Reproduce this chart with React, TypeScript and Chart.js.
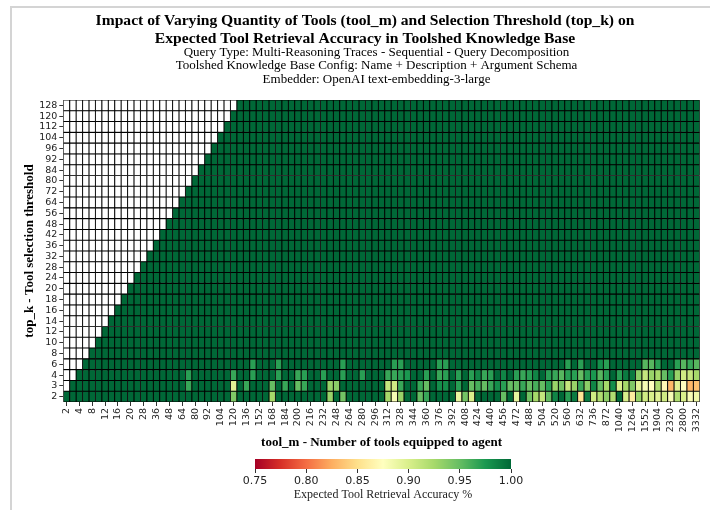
import React, { useEffect, useRef } from 'react';
import { Chart, registerables } from 'chart.js';

Chart.register(...registerables);

// ---------- DATA ----------
const TOOL_M = [
  2, 3, 4, 6, 8, 10, 12, 14, 16, 18, 20, 24, 28, 32, 36, 42, 48, 56, 64, 72,
  80, 84, 92, 96, 104, 112, 120, 128, 136, 144, 152, 160, 168, 176, 184, 192, 200, 208, 216, 224,
  232, 240, 248, 256, 264, 272, 280, 288, 296, 304, 312, 320, 328, 336, 344, 352, 360, 368, 376, 384,
  392, 400, 408, 416, 424, 432, 440, 448, 456, 464, 472, 480, 488, 496, 504, 512, 520, 536, 560, 592,
  632, 680, 736, 800, 872, 952, 1040, 1144, 1264, 1400, 1552, 1720, 1904, 2104, 2320, 2552, 2800, 3064, 3332,
];

const TOP_K = [2, 3, 4, 6, 8, 10, 12, 14, 16, 18, 20, 24, 28, 32, 36, 42, 48, 56, 64, 72, 80, 84, 92, 96, 104, 112, 120, 128];

// accuracy per tool_m column (null = top_k larger than tool_m)
const ACC_K2 = [
  1, 1, 1, 1, 1, 1, 1, 1, 1, 1,
  1, 1, 1, 1, 1, 1, 1, 1, 1, 1,
  1, 1, 1, 1, 1, 1, 0.94, 1, 1, 1,
  1, 1, 0.925, 1, 1, 1, 1, 1, 1, 1,
  1, 0.93, 1, 0.945, 1, 1, 1, 1, 1, 1,
  0.925, 0.88, 0.93, 1, 1, 0.95, 0.965, 1, 1, 1,
  1, 0.89, 0.945, 0.9, 1, 1, 1, 1, 0.95, 1,
  0.89, 1, 0.945, 0.925, 0.91, 0.95, 0.985, 1, 0.97, 0.99,
  0.855, 0.99, 0.905, 0.92, 0.935, 0.92, 1, 0.9, 0.86, 0.93,
  0.905, 0.9, 0.895, 0.905, 0.88, 0.92, 0.9, 0.88, 0.885,
];
const ACC_K3 = [
  null, 1, 1, 1, 1, 1, 1, 1, 1, 1,
  1, 1, 1, 1, 1, 1, 1, 1, 1, 0.965,
  1, 1, 1, 1, 1, 1, 0.895, 1, 0.965, 1,
  1, 1, 0.95, 1, 0.965, 1, 0.95, 0.965, 1, 1,
  1, 0.93, 0.935, 1, 1, 1, 1, 1, 1, 1,
  0.91, 0.905, 0.965, 1, 1, 0.965, 0.95, 1, 0.98, 0.98,
  1, 0.97, 1, 0.95, 0.96, 0.95, 0.965, 0.98, 0.97, 0.95,
  0.95, 0.965, 0.95, 0.96, 0.95, 0.97, 0.93, 0.945, 0.91, 0.93,
  0.965, 0.935, 0.985, 0.95, 0.925, 0.98, 0.9, 0.925, 0.94, 0.895,
  0.88, 0.875, 0.92, 0.87, 0.83, 0.895, 0.875, 0.83, 0.835,
];
const ACC_K4 = [
  null, null, 1, 1, 1, 1, 1, 1, 1, 1,
  1, 1, 1, 1, 1, 1, 1, 1, 1, 0.97,
  1, 1, 1, 1, 1, 1, 0.965, 1, 1, 0.97,
  1, 1, 1, 0.97, 1, 1, 0.965, 0.97, 1, 1,
  0.97, 1, 1, 0.97, 1, 1, 0.97, 1, 1, 1,
  0.965, 0.965, 0.97, 0.975, 1, 1, 0.97, 1, 0.965, 0.97,
  1, 0.97, 1, 0.97, 0.985, 0.965, 0.97, 1, 0.985, 1,
  0.97, 0.965, 0.97, 0.985, 1, 0.97, 0.965, 0.955, 0.97, 0.97,
  0.95, 0.97, 0.975, 0.955, 0.97, 1, 0.97, 0.99, 0.99, 0.935,
  0.91, 0.93, 0.925, 0.95, 0.97, 0.93, 0.905, 0.91, 0.925,
];
const ACC_K6 = [
  null, null, null, 1, 1, 1, 1, 1, 1, 1,
  1, 1, 1, 1, 1, 1, 1, 1, 1, 1,
  1, 1, 1, 1, 1, 1, 1, 1, 1, 0.97,
  1, 1, 1, 0.97, 1, 1, 1, 1, 1, 1,
  1, 1, 1, 0.97, 1, 1, 1, 1, 1, 1,
  1, 0.97, 0.97, 1, 1, 1, 1, 1, 0.97, 0.97,
  1, 1, 1, 1, 1, 1, 1, 1, 1, 1,
  1, 1, 1, 1, 1, 1, 1, 1, 0.97, 1,
  0.97, 1, 1, 0.98, 0.97, 1, 1, 1, 1, 1,
  0.955, 0.955, 0.97, 1, 1, 0.97, 0.955, 0.965, 0.955,
];
// every row from top_k = 8 upward reads as 1.00 wherever top_k <= tool_m
const ACC_UPPER_ROWS = 1.0;

const COLORBAR_TICKS = [0.75, 0.8, 0.85, 0.9, 0.95, 1.0];
const V_MIN = 0.75;
const V_MAX = 1.0;

const TITLE_LINES = [
  'Impact of Varying Quantity of Tools (tool_m) and Selection Threshold (top_k) on',
  'Expected Tool Retrieval Accuracy in Toolshed Knowledge Base',
];
const SUBTITLE_LINES = [
  'Query Type: Multi-Reasoning Traces - Sequential - Query Decomposition',
  'Toolshed Knowledge Base Config: Name + Description + Argument Schema',
  'Embedder: OpenAI text-embedding-3-large',
];

// ---------- COLOURS ----------
const RDYLGN = ['#a50026', '#d73027', '#f46d43', '#fdae61', '#fee08b', '#ffffbf', '#d9ef8b', '#a6d96a', '#66bd63', '#1a9850', '#006837'];

function hexToRgb(h: string): number[] {
  const n = parseInt(h.slice(1), 16);
  return [(n >> 16) & 255, (n >> 8) & 255, n & 255];
}
const RDYLGN_RGB = RDYLGN.map(hexToRgb);

function colorFor(v: number | null): string {
  if (v == null) return '#ffffff';
  let t = (v - V_MIN) / (V_MAX - V_MIN);
  t = Math.max(0, Math.min(1, t));
  const pos = t * (RDYLGN_RGB.length - 1);
  const i = Math.min(RDYLGN_RGB.length - 2, Math.floor(pos));
  const f = pos - i;
  const a = RDYLGN_RGB[i];
  const b = RDYLGN_RGB[i + 1];
  const c = a.map((x, j) => Math.round(x + (b[j] - x) * f));
  return `rgb(${c[0]},${c[1]},${c[2]})`;
}

const LOW_ROWS: (number | null)[][] = [ACC_K2, ACC_K3, ACC_K4, ACC_K6];

const headerPlugin = {
  id: 'header',
  afterDraw(chart: any) {
    const ctx = chart.ctx;
    const area = chart.chartArea;
    ctx.save();
    ctx.fillStyle = '#000';
    ctx.textAlign = 'center';
    ctx.textBaseline = 'middle';
    ctx.font = 'bold 15.6px "Liberation Serif"';
    TITLE_LINES.forEach((t, i) => ctx.fillText(t, chart.width / 2 + 4, 13 + i * 18));
    ctx.font = '13px "Liberation Serif"';
    const cx = (area.left + area.right) / 2 - 5;
    SUBTITLE_LINES.forEach((t, i) => ctx.fillText(t, cx, 44.5 + i * 13.5));
    ctx.restore();
  },
};

export default function App() {
  const mainRef = useRef<HTMLCanvasElement>(null);
  const barRef = useRef<HTMLCanvasElement>(null);

  useEffect(() => {
    if (!mainRef.current || !barRef.current) return;
    Chart.defaults.font.family = 'DejaVu Sans';

    const matrix = TOP_K.map((k, r) => {
      const row = LOW_ROWS[r] ?? TOOL_M.map(() => ACC_UPPER_ROWS);
      return TOOL_M.map((m, c) => (m < k ? null : row[c]));
    });

    const datasets = matrix.map((row, r) => ({
      label: String(TOP_K[r]),
      data: row.map(() => 1),
      backgroundColor: row.map(colorFor),
      borderColor: '#000000',
      borderWidth: 0.85,
      borderSkipped: false as const,
      barPercentage: 1,
      categoryPercentage: 1,
      stack: 'cells',
    }));

    const main = new Chart(mainRef.current, {
      type: 'bar',
      data: { labels: TOOL_M.map(String), datasets },
      plugins: [headerPlugin],
      options: {
        responsive: false,
        animation: false,
        devicePixelRatio: 1,
        layout: { padding: { top: 92, right: 7.2, left: 0, bottom: 0 } },
        plugins: { legend: { display: false }, tooltip: { enabled: false } },
        scales: {
          x: {
            type: 'category',
            stacked: true,
            offset: true,
            grid: { offset: false, drawOnChartArea: false, drawTicks: true, tickLength: 4, color: '#333' },
            border: { display: false },
            afterBuildTicks: (axis: any) => {
              axis.ticks = axis.ticks.filter((t: any) => t.value % 2 === 0);
            },
            afterFit: (s: any) => {
              s.height = 58;
            },
            ticks: {
              autoSkip: false,
              maxRotation: 90,
              minRotation: 90,
              padding: 2,
              color: '#222',
              font: { family: 'DejaVu Sans', size: 9.5 },
            },
            title: {
              display: true,
              text: 'tool_m - Number of tools equipped to agent',
              color: '#000',
              font: { family: 'Liberation Serif', size: 13, weight: 'bold' },
              padding: { top: 0, bottom: 10 },
            },
          },
          y: {
            type: 'linear',
            stacked: true,
            min: 0,
            max: TOP_K.length,
            grid: { drawOnChartArea: false, drawTicks: true, tickLength: 4, color: '#333' },
            border: { display: false },
            afterBuildTicks: (axis: any) => {
              axis.ticks = TOP_K.map((_, i) => ({ value: i + 0.5 }));
            },
            afterFit: (s: any) => {
              s.width = 51.3;
            },
            ticks: {
              autoSkip: false,
              padding: 2,
              color: '#222',
              font: { family: 'DejaVu Sans', size: 9.5 },
              callback: (v: any) => String(TOP_K[Math.floor(Number(v))]),
            },
            title: {
              display: true,
              text: 'top_k - Tool selection threshold',
              color: '#000',
              font: { family: 'Liberation Serif', size: 13, weight: 'bold' },
              padding: { top: 10, bottom: 0 },
            },
          },
        },
      },
    } as any);

    const bar = new Chart(barRef.current, {
      type: 'bar',
      data: {
        labels: [''],
        datasets: [
          {
            data: [[V_MIN, V_MAX]],
            borderWidth: 0,
            barPercentage: 1,
            categoryPercentage: 1,
            backgroundColor: (ctx: any) => {
              const ch = ctx.chart;
              const a = ch.chartArea;
              if (!a) return 'transparent';
              const g = ch.ctx.createLinearGradient(a.left, 0, a.right, 0);
              RDYLGN.forEach((c, i) => g.addColorStop(i / (RDYLGN.length - 1), c));
              return g;
            },
          },
        ],
      },
      options: {
        indexAxis: 'y',
        responsive: false,
        animation: false,
        devicePixelRatio: 1,
        layout: { padding: { top: 4, left: 243, right: 199, bottom: 0 } },
        plugins: { legend: { display: false }, tooltip: { enabled: false } },
        scales: {
          y: { display: false },
          x: {
            type: 'linear',
            min: V_MIN,
            max: V_MAX,
            afterBuildTicks: (axis: any) => {
              axis.ticks = COLORBAR_TICKS.map((v) => ({ value: v }));
            },
            afterFit: (s: any) => {
              s.height = 41;
            },
            grid: { drawOnChartArea: false, drawTicks: true, tickLength: 4, color: '#333' },
            border: { display: false },
            ticks: {
              padding: 2,
              color: '#222',
              font: { family: 'DejaVu Sans', size: 11 },
              callback: (v: any) => Number(v).toFixed(2),
            },
            title: {
              display: true,
              text: 'Expected Tool Retrieval Accuracy %',
              color: '#222',
              font: { family: 'Liberation Serif', size: 12 },
              padding: { top: 1, bottom: 8 },
            },
          },
        },
      },
    } as any);

    return () => {
      main.destroy();
      bar.destroy();
    };
  }, []);

  return (
    <div style={{ position: 'fixed', left: 0, top: 0, width: 710, height: 510, background: '#fff' }}>
      <div
        style={{
          position: 'absolute',
          left: 10,
          top: 6,
          width: 700,
          height: 504,
          borderLeft: '2px solid #d4d4d4',
          borderTop: '2px solid #d4d4d4',
        }}
      />
      <canvas ref={mainRef} width={698} height={452} style={{ position: 'absolute', left: 12, top: 8 }} />
      <canvas ref={barRef} width={698} height={55} style={{ position: 'absolute', left: 12, top: 455 }} />
    </div>
  );
}
